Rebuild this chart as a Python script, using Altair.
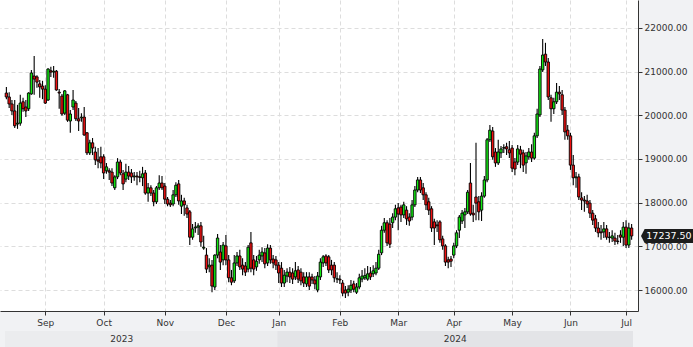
import altair as alt
import pandas as pd

# Trading days (LME-style calendar, UK holidays removed)
all_days = pd.bdate_range("2023-08-11", "2024-07-03")
holidays = pd.to_datetime(["2023-08-28", "2023-12-25", "2023-12-26", "2024-01-01",
                           "2024-03-29", "2024-04-01", "2024-05-06", "2024-05-27"])
dates = all_days[~all_days.isin(holidays)]

open_ = [
    20510, 20420, 20260, 20100, 19800, 19820, 20310, 20190, 20150, 20490,
    20900, 20880, 20720, 20670, 20600, 20350, 21020, 20990, 21010, 20530,
    20440, 20050, 20470, 19870, 20190, 20280, 19920, 19940, 19960, 19600,
    19140, 19370, 19160, 18980, 19050, 19050, 18730, 18730, 18700, 18340,
    18590, 18930, 18660, 18540, 18700, 18680, 18590, 18610, 18590, 18570,
    18680, 18220, 18340, 18220, 18020, 18340, 18450, 18380, 18080, 17990,
    17970, 18180, 18430, 17920, 18040, 17880, 17790, 17210, 17420, 17440,
    17470, 16960, 16800, 16530, 16570, 16070, 16800, 16870, 16690, 17010,
    16690, 16280, 16210, 16620, 16780, 16570, 16550, 16480, 17080, 16690,
    16530, 16690, 16780, 16850, 16620, 16960, 16710, 16690, 16570, 16500,
    16160, 16320, 16410, 16390, 16300, 16460, 16410, 16300, 16140, 16300,
    16300, 16230, 16000, 16300, 16620, 16780, 16760, 16570, 16570, 16250,
    16250, 16160, 16000, 15950, 16000, 16140, 15950, 16070, 16250, 16280,
    16250, 16390, 16370, 16390, 16500, 16850, 17370, 17540, 17510, 17540,
    17670, 17880, 17900, 17720, 17830, 17670, 17670, 17950, 18290, 18520,
    18340, 18180, 18020, 17860, 17560, 17490, 17560, 17170, 17010, 16690,
    16710, 16800, 17010, 17370, 17580, 17720, 17790, 18450, 17760, 18130,
    18020, 17830, 18150, 18520, 19440, 19640, 19160, 18910, 19140, 19250,
    19280, 19210, 19250, 18930, 18930, 19210, 19140, 18910, 19050, 19160,
    19020, 19530, 20010, 21040, 21400, 21220, 20400, 20150, 20310, 20530,
    20470, 20120, 19660, 19530, 18860, 18570, 18590, 18110, 18060, 18040,
    17990, 17760, 17630, 17420, 17330, 17330, 17400, 17210, 17190, 17190,
    17120, 17260, 17210, 17440, 17030, 17420,
]
high_ = [
    20650, 20530, 20350, 20350, 20240, 20470, 20400, 20350, 20530, 21040,
    21360, 20920, 20810, 20790, 20690, 21080, 21110, 21130, 21040, 20600,
    20490, 20580, 20490, 20120, 20580, 20330, 20170, 20050, 20190, 19620,
    19440, 19480, 19280, 19250, 19280, 19110, 18910, 18790, 18790, 18630,
    19020, 18980, 18750, 18890, 18840, 18770, 18700, 18700, 18730, 18820,
    18750, 18450, 18400, 18290, 18380, 18630, 18610, 18450, 18130, 18060,
    18290, 18470, 18520, 18180, 18110, 17950, 17830, 17510, 17560, 17530,
    17560, 17240, 16960, 16730, 16690, 16820, 17280, 17030, 17100, 17260,
    16800, 16460, 16800, 16870, 16920, 16730, 16640, 17030, 17330, 16800,
    16780, 16920, 16980, 16960, 17050, 17030, 16800, 16780, 16640, 16640,
    16460, 16500, 16530, 16500, 16640, 16550, 16500, 16410, 16410, 16410,
    16370, 16320, 16410, 16730, 16800, 16820, 16800, 16690, 16640, 16410,
    16340, 16230, 16090, 16110, 16230, 16210, 16160, 16370, 16460, 16500,
    16550, 16530, 16570, 16640, 16920, 17470, 17650, 17600, 17650, 17760,
    17950, 17990, 17950, 18020, 17920, 17760, 18060, 18380, 18590, 18590,
    18450, 18240, 18110, 17920, 17630, 17600, 17600, 17240, 17050, 16760,
    16780, 17080, 17370, 17720, 17830, 17880, 18290, 18910, 17950, 19370,
    18150, 18240, 18610, 19480, 19780, 19730, 19250, 19440, 19300, 19340,
    19370, 19410, 19320, 19020, 19320, 19300, 19210, 19160, 19250, 19340,
    19600, 20150, 21130, 21750, 21660, 21310, 20470, 20400, 20740, 20670,
    20580, 20190, 19780, 19600, 19090, 18700, 18660, 18240, 18150, 18180,
    18060, 17830, 17720, 17560, 17490, 17560, 17490, 17330, 17370, 17310,
    17260, 17370, 17560, 17600, 17540, 17510,
]
low_ = [
    20370, 20170, 20010, 19710, 19690, 19760, 20080, 19960, 20100, 20470,
    20470, 20630, 20400, 20370, 20260, 20330, 20880, 20860, 20560, 20150,
    19990, 20010, 19850, 19600, 20120, 19870, 19640, 19850, 19530, 19090,
    19090, 19090, 18860, 18790, 18790, 18540, 18660, 18520, 18380, 18290,
    18540, 18630, 18290, 18470, 18520, 18450, 18500, 18400, 18470, 18380,
    18180, 18020, 18150, 17920, 17970, 18290, 18290, 17970, 17920, 17900,
    17920, 18130, 17950, 17740, 17700, 17650, 17030, 17150, 17310, 17260,
    16990, 16920, 16390, 16410, 15950, 16000, 16730, 16460, 16570, 16570,
    16180, 16110, 16160, 16550, 16460, 16340, 16320, 16410, 16410, 16340,
    16440, 16600, 16640, 16500, 16550, 16600, 16500, 16460, 16160, 16070,
    16070, 16180, 16160, 16140, 16230, 16160, 16110, 16070, 16070, 16000,
    16140, 16020, 15950, 16230, 16530, 16550, 16390, 16340, 16180, 16160,
    16140, 15860, 15820, 15860, 15930, 15950, 15910, 16020, 16180, 16230,
    16210, 16230, 16300, 16340, 16460, 16800, 17310, 17010, 16960, 17420,
    17600, 17370, 17560, 17650, 17490, 17470, 17600, 17900, 18240, 18220,
    18060, 17830, 17720, 17330, 17030, 17330, 17080, 16920, 16550, 16500,
    16530, 16730, 16960, 17190, 17510, 17420, 17740, 17700, 17560, 17600,
    17600, 17580, 18110, 18470, 19390, 18980, 18820, 18860, 19020, 19140,
    19090, 19020, 18700, 18630, 18860, 18790, 18700, 18660, 18980, 18930,
    18980, 19480, 19960, 20990, 21130, 20350, 19850, 20030, 20260, 20350,
    20010, 19440, 19440, 18750, 18400, 18340, 18060, 17830, 17790, 17880,
    17650, 17490, 17330, 17210, 17150, 17190, 17150, 17080, 17100, 17030,
    17050, 17080, 17010, 16960, 16960, 17150,
]
close_ = [
    20420, 20260, 20100, 19760, 19820, 20280, 20150, 20100, 20510, 20970,
    20830, 20760, 20650, 20600, 20280, 21060, 20990, 21010, 20580, 20510,
    20030, 20560, 19890, 20030, 20350, 19920, 19870, 19960, 19550, 19140,
    19370, 19250, 18980, 18950, 18910, 18680, 18820, 18700, 18450, 18590,
    18930, 18680, 18430, 18700, 18610, 18590, 18610, 18590, 18580, 18660,
    18220, 18340, 18220, 18020, 18340, 18450, 18340, 18080, 17970, 17950,
    18180, 18400, 18040, 18040, 17950, 17740, 17210, 17400, 17440, 17470,
    17100, 16980, 16480, 16570, 16090, 16800, 17190, 16640, 17030, 16690,
    16280, 16180, 16620, 16780, 16530, 16480, 16410, 16980, 16500, 16480,
    16660, 16800, 16870, 16600, 16960, 16690, 16620, 16570, 16390, 16160,
    16340, 16410, 16300, 16250, 16440, 16250, 16210, 16160, 16300, 16090,
    16230, 16140, 16320, 16640, 16760, 16620, 16460, 16460, 16280, 16260,
    16230, 15930, 15930, 16020, 16110, 16020, 16070, 16280, 16320, 16330,
    16370, 16300, 16440, 16500, 16820, 17370, 17540, 17080, 17050, 17670,
    17860, 17740, 17720, 17950, 17630, 17580, 17950, 18290, 18520, 18290,
    18180, 17950, 17830, 17420, 17420, 17470, 17150, 17010, 16640, 16640,
    16660, 17010, 17310, 17670, 17760, 17790, 18240, 17740, 17720, 17990,
    17790, 18150, 18520, 19440, 19660, 19050, 18910, 19160, 19230, 19260,
    19230, 19140, 18790, 18770, 19230, 19110, 18860, 19070, 19160, 19020,
    19530, 20030, 21060, 21380, 21220, 20420, 20150, 20310, 20530, 20490,
    20120, 19620, 19530, 18860, 18570, 18590, 18130, 18060, 18040, 17970,
    17760, 17600, 17420, 17310, 17310, 17400, 17210, 17200, 17240, 17120,
    17110, 17210, 17440, 17030, 17420, 17237.5,
]

y_ticks = [16000, 17000, 18000, 19000, 20000, 21000, 22000]
y_domain = [15520, 22640]

n = len(close_)
dates = dates[:n]
df = pd.DataFrame({
    "idx": list(range(n)),
    "date": dates.strftime("%Y-%m-%d"),
    "open": open_, "high": high_, "low": low_, "close": close_,
})

# month ticks at first trading day of each month
month_idx, month_lab = [], []
for i in range(1, n):
    if dates[i].month != dates[i - 1].month:
        month_idx.append(i)
        month_lab.append(dates[i].strftime("%b"))
label_expr = "[" + ",".join(f"'{m}'" for m in month_lab) + "][indexof([" + \
    ",".join(str(v) for v in month_idx) + "], datum.value)]"

jan_idx = [i for i in range(1, n) if dates[i].year != dates[i - 1].year][0]
years_df = pd.DataFrame({
    "year": ["2023", "2024"],
    "start": [-0.5, jan_idx - 0.5],
    "end": [jan_idx - 0.5, n - 0.5],
    "center": [41.5, (jan_idx - 0.5 + n - 0.5) / 2],
    "fill": ["#ebecee", "#e3e4e7"],
})
last_df = df.tail(1)

FONT = "DejaVu Sans"
xscale = alt.Scale(domain=[-0.5, n - 0.5], nice=False, zero=False)
yscale = alt.Scale(domain=y_domain, nice=False, zero=False)

xaxis = alt.Axis(values=month_idx, labelExpr=label_expr, title=None, grid=True,
                 gridDash=[4, 3], gridColor="#dddddd", tickSize=4, tickColor="#333333",
                 domainColor="#333333", labelFont=FONT, labelFontSize=9,
                 labelColor="#333333", labelPadding=3, labelFlush=False)
yaxis = alt.Axis(orient="right", values=y_ticks, format=".2f", title=None, grid=True,
                 gridDash=[4, 3], gridColor="#dddddd", tickSize=4, tickColor="#333333",
                 domainColor="#333333", labelFont=FONT, labelFontSize=9,
                 labelColor="#333333", labelPadding=2)

base = alt.Chart(df)

wick = base.mark_rule(color="#000000", strokeWidth=1.1).encode(
    x=alt.X("idx:Q", scale=xscale, axis=xaxis),
    y=alt.Y("low:Q", scale=yscale, axis=yaxis),
    y2="high:Q",
)
body = base.mark_bar(size=2.4, stroke="#000000", strokeWidth=0.9).encode(
    x=alt.X("idx:Q", title=None),
    y=alt.Y("open:Q", title=None),
    y2="close:Q",
    color=alt.condition("datum.close >= datum.open", alt.value("#12ea12"), alt.value("#f01010")),
)

bands = alt.Chart(years_df).mark_rect().encode(
    x=alt.X("start:Q", title=None), x2="end:Q",
    y=alt.value(331), y2=alt.value(347),
    color=alt.Color("fill:N", scale=None),
)
year_text = alt.Chart(years_df).mark_text(font=FONT, fontSize=9, color="#333333").encode(
    x=alt.X("center:Q", title=None), y=alt.value(339), text="year:N",
)

arrow_path = "M-1,0 L-0.86,-0.27 L1,-0.27 L1,0.27 L-0.86,0.27 Z"
price_box = alt.Chart(last_df).mark_point(shape=arrow_path, size=2704, filled=True,
                                          color="#1c1c1c", opacity=1).encode(
    x=alt.value(667), y=alt.Y("close:Q", title=None),
)
price_text = alt.Chart(last_df).mark_text(font=FONT, fontSize=9.5, color="white",
                                          align="center", dx=1).encode(
    x=alt.value(668), y=alt.Y("close:Q", title=None),
    text=alt.Text("close:Q", format=".2f"),
)

chart = alt.layer(bands, year_text, wick, body, price_box, price_text).properties(
    width=638, height=311,
    padding={"left": 0, "top": 0, "right": 55, "bottom": 36},
    autosize=alt.AutoSizeParams(type="none"),
    background="#f1f2f4",
).configure_view(fill="white", strokeWidth=0)

chart.save("out.html", embed_options={"renderer": "svg", "actions": False})
